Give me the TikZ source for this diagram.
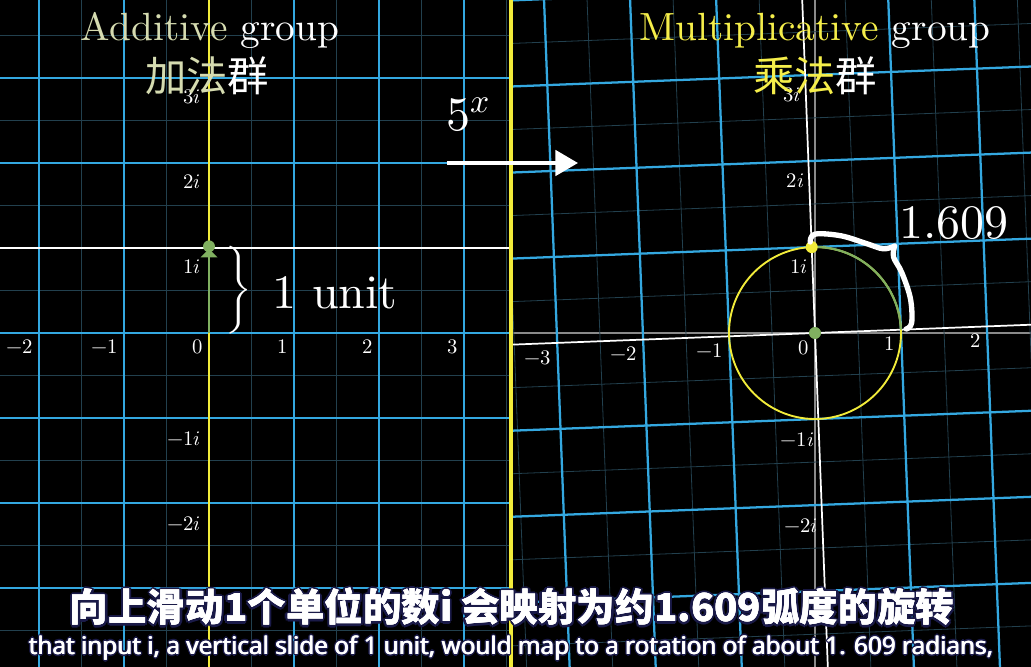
\documentclass[tikz,border=0pt]{standalone}
\usepackage{fontspec}
\usepackage{unicode-math}
\setmainfont{lmroman10-regular.otf}[ItalicFont=lmroman10-italic.otf,BoldFont=lmroman10-bold.otf]
\setmathfont{Latin Modern Math}
\newfontfamily\cjk{Noto Sans CJK SC}
\newfontfamily\subfont{Noto Sans}
\usetikzlibrary{arrows.meta}
\definecolor{gridcyan}{HTML}{34A8E0}
\definecolor{faintgrid}{HTML}{22404E}
\definecolor{axyellow}{HTML}{F2EC3A}
\definecolor{titleyellow}{HTML}{F5EE4A}
\definecolor{addcol}{HTML}{D5DBB0}
\definecolor{vecgreen}{HTML}{80B060}
\definecolor{grayaxis}{HTML}{8A8A8A}
\definecolor{olcol}{HTML}{1A1A48}
\newsavebox\olsavebox
\newdimen\oldimA
\newdimen\oldimB
\newdimen\oldimC
\newcommand\subtitleoutline[3]{%
  \oldimA=#1\relax\oldimB=0.7\oldimA\oldimC=#2\relax
  \setbox\olsavebox\hbox{#3}%
  \rlap{\color{olcol}\kern\oldimA\copy\olsavebox}%
  \rlap{\color{olcol}\kern-\oldimA\copy\olsavebox}%
  \rlap{\color{olcol}\raise\oldimA\copy\olsavebox}%
  \rlap{\color{olcol}\lower\oldimA\copy\olsavebox}%
  \rlap{\color{olcol}\kern\oldimB\raise\oldimB\copy\olsavebox}%
  \rlap{\color{olcol}\kern-\oldimB\raise\oldimB\copy\olsavebox}%
  \rlap{\color{olcol}\kern\oldimB\lower\oldimB\copy\olsavebox}%
  \rlap{\color{olcol}\kern-\oldimB\lower\oldimB\copy\olsavebox}%
  \rlap{\kern\oldimC\copy\olsavebox}%
  \rlap{\kern-\oldimC\copy\olsavebox}%
  \copy\olsavebox}
\begin{document}
\begin{tikzpicture}[x=0.75pt,y=-0.75pt,
  faint/.style={faintgrid,line width=0.6pt},
  gridline/.style={gridcyan,line width=1.7pt},
  lbl/.style={text=white,inner sep=0pt,font=\fontsize{15.5}{18}\selectfont,anchor=north east},
  bigtext/.style={text=white,inner sep=0pt,font=\fontsize{36}{40}\selectfont},
  titletext/.style={text=white,inner sep=0pt,font=\fontsize{29.5}{32}\selectfont},
  cjktitle/.style={text=white,inner sep=0pt,font=\cjk\fontsize{31}{34}\selectfont},
  dot/.style={radius=0.07}]
\fill[black] (0,0) rectangle (1031,667);
\useasboundingbox (0,0) rectangle (1031,667);
% ---------------- left plane (additive) ----------------
\coordinate (O1) at (209,333);
\begin{scope}
\clip (0,0) rectangle (511,667);
\begin{scope}[shift={(O1)},x=63.75pt,y=63.75pt]
  \foreach \u in {-2.5,-1.5,...,3.5} \draw[faint] (\u,-4.2) -- (\u,4.2);
  \foreach \v in {-3.5,-2.5,...,3.5} \draw[faint] (-3,\v) -- (4,\v);
  \foreach \u in {-2,...,3} \draw[gridline] (\u,-4.2) -- (\u,4.2);
  \foreach \v in {-3,...,3} \draw[gridline] (-3,\v) -- (4,\v);
  \draw[white,line width=1.5pt] (-3,1) -- (4,1);
  \draw[axyellow,line width=1.4pt] (0,1) -- (0,4.2);
  \draw[axyellow,line width=1.4pt] (0,-4.2) -- (0,0);
  \draw[vecgreen,line width=1.4pt] (0,0) -- (0,1);
  \fill[vecgreen] (0,0.99) -- (-0.1,0.89) -- (0.1,0.89) -- cycle;
  \fill[vecgreen] (0,1.02) circle[dot];
  \foreach \k [count=\c] in {-2,...,3}
    \node[lbl] (lxA\c) at (\k-0.07,-0.08) {$\k$};
  \node[lbl] (lyA3) at (-0.094,2.86) {$3i$};
  \node[lbl] (lyA2) at (-0.094,1.86) {$2i$};
  \node[lbl] (lyA1) at (-0.094,0.86) {$1i$};
  \node[lbl] (lyAm1) at (-0.094,-1.16) {$-1i$};
  \node[lbl] (lyAm2) at (-0.094,-2.16) {$-2i$};
\end{scope}
\end{scope}
% ---------------- right plane (multiplicative) ----------------
\coordinate (O2) at (815,333);
\begin{scope}
\clip (511,0) rectangle (1031,667);
\draw[grayaxis,line width=1.2pt] (511,333) -- (1031,333);
\draw[grayaxis,line width=1.2pt] (815,0) -- (815,667);
\begin{scope}[shift={(O2)},x=64.5pt,y=64.5pt,rotate=2.2]
  \foreach \u in {-4.5,-3.5,...,2.5} \draw[faint] (\u,-4.5) -- (\u,4.5);
  \foreach \v in {-4.5,-3.5,...,4.5} \draw[faint] (-4.5,\v) -- (3.5,\v);
  \foreach \u in {-4,-3,-2,-1,1,2,3} \draw[gridline] (\u,-4.5) -- (\u,4.5);
  \foreach \v in {-4,-3,-2,-1,1,2,3,4} \draw[gridline] (-4.5,\v) -- (3.5,\v);
  \draw[white,line width=1.3pt] (-4.5,0) -- (3.5,0);
  \draw[white,line width=1.3pt] (0,-4.5) -- (0,4.5);
  \draw[axyellow,line width=1.4pt] (0,0) circle[radius=1];
  \draw[vecgreen,line width=1.6pt] (0:1) arc[start angle=0,end angle=90,radius=1];
  \fill[axyellow] (90:1) circle[dot];
  \fill[vecgreen] (0,0) circle[dot];
  \foreach \k [count=\c] in {-3,...,2}
    \node[lbl] (lxB\c) at (\k-0.07,-0.08) {$\k$};
  \node[lbl] (lyB3) at (-0.05,2.86) {$3i$};
  \node[lbl] (lyB2) at (-0.05,1.86) {$2i$};
  \node[lbl] (lyB1) at (-0.05,0.86) {$1i$};
  \node[lbl] (lyBm1) at (-0.05,-1.16) {$-1i$};
  \node[lbl] (lyBm2) at (-0.05,-2.16) {$-2i$};
\end{scope}
\end{scope}
% divider
\draw[axyellow,line width=3pt] (511,0) -- (511,667);
% map arrow
\node[bigtext,anchor=base west] (fivex) at (446,130) {$5^x$};
\coordinate (arrS) at (447,163);
\coordinate (arrE) at (578,163);
\draw[white,line width=3pt,-{Triangle[length=17pt,width=19pt]}] (arrS) -- (arrE);
% titles
\node[titletext,anchor=base] (addtitle) at (210,41) {{\color{addcol}Additive} group};
\node[cjktitle] (addcjk) at (207,76) {{\color{addcol}加法}群};
\node[titletext,anchor=base] (multitle) at (815,41) {{\color{titleyellow}Multiplicative} group};
\node[cjktitle] (mulcjk) at (815,76) {{\color{titleyellow}乘法}群};
% 1 unit brace
\node[text=white,inner sep=0pt,font=\fontsize{22}{26}\selectfont] (ubrace) at (238,290)
  {$\left.\rule[-27pt]{0pt}{54pt}\right\}$};
\node[bigtext,anchor=base west] (unit) at (272,308) {1 unit};
% 1.609 brace
\begin{scope}[shift={(O2)},x=64.5pt,y=64.5pt]
  \draw[white,line width=4pt,line cap=round,line join=round]
    plot[smooth,tension=0.6] coordinates {(93:1.06) (90:1.15) (75:1.17) (60:1.2) (51:1.26) (47.5:1.37)};
  \draw[white,line width=4pt,line cap=round,line join=round]
    plot[smooth,tension=0.6] coordinates {(47.5:1.37) (44:1.27) (35:1.23) (20:1.18) (6:1.13) (2.5:1.06)};
\end{scope}
\node[bigtext,anchor=base west] (val) at (899,238) {1.609};
% subtitles
\node[text=white,inner sep=0pt,font=\cjk\bfseries\fontsize{28.9}{32}\selectfont] (sub1) at (512,607)
  {\subtitleoutline{1.8pt}{0pt}{向上滑动1个单位的数i 会映射为约1.609弧度的旋转}};
\node[text=white,inner sep=0pt,font=\subfont\fontsize{18.2}{21}\selectfont] (sub2) at (511,648)
  {\subtitleoutline{1.3pt}{0.35pt}{that input i, a vertical slide of 1 unit, would map to a rotation of about 1. 609 radians,}};
\end{tikzpicture}
\end{document}
